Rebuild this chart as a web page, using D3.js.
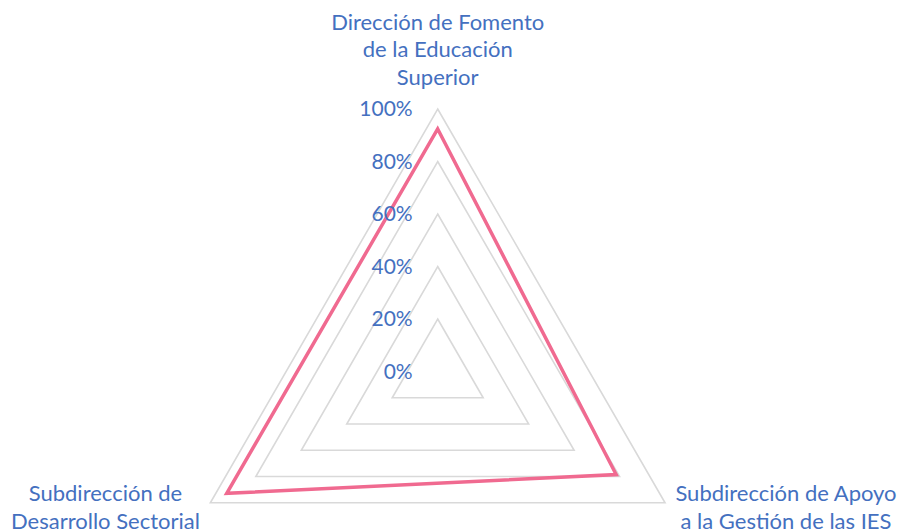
<!DOCTYPE html>
<html>
    <head>
        <title>Radar</title>
        <meta charset="UTF-8">
        <script src="https://cdnjs.cloudflare.com/ajax/libs/d3/7.9.0/d3.min.js"></script>
        <style>
            html, body {
                margin: 0;
                padding: 0;
                background: #fff;
            }
            text {
                font-family: Lato, "Noto Sans", sans-serif;
                fill: #4470bf;
            }
        </style>
    </head>
    <body>
        <div id="chart"></div>
        <script>
            // categories clockwise from the top, each one split in its display lines
            var categories = [
                ['Dirección de Fomento', 'de la Educación', 'Superior'],
                ['Subdirección de Apoyo', 'a la Gestión de las IES'],
                ['Subdirección de', 'Desarrollo Sectorial']
            ];
            var values = [0.924, 0.785, 0.928];
            var ticks = [0, 0.2, 0.4, 0.6, 0.8, 1];
            var tickLabels = ['0%', '20%', '40%', '60%', '80%', '100%'];

            var w = 901;
            var h = 531;
            var cx = 437.7;
            var cy = 371.5;
            var R = 262.5;

            var svg = d3.select('#chart').append('svg')
                    .attr('width', w)
                    .attr('height', h);

            var r = d3.scaleLinear().domain([0, 1]).range([0, R]);
            var angle = d3.scaleLinear()
                    .domain([0, categories.length])
                    .range([-Math.PI / 2, Math.PI * 3 / 2]);

            function pt(i, v){
                return [cx + r(v) * Math.cos(angle(i)), cy + r(v) * Math.sin(angle(i))];
            }

            var line = d3.line().curve(d3.curveLinearClosed);

            // grid rings (0% is the centre point)
            svg.append('g').selectAll('path')
                .data(ticks.filter(t => t > 0))
                .enter().append('path')
                .attr('fill', 'none')
                .attr('stroke', '#d9d9d9')
                .attr('stroke-width', 1.6)
                .attr('d', t => line(categories.map((c, i) => pt(i, t))));

            // series
            svg.append('path')
                .attr('fill', 'none')
                .attr('stroke', '#f06a90')
                .attr('stroke-width', 3.5)
                .attr('stroke-linejoin', 'miter')
                .attr('d', line(values.map((v, i) => pt(i, v))));

            // tick labels
            svg.append('g').selectAll('text')
                .data(ticks)
                .enter().append('text')
                .attr('x', cx - 25)
                .attr('y', t => cy - r(t))
                .attr('dy', '0.35em')
                .attr('text-anchor', 'end')
                .style('font-size', '21px')
                .text((t, i) => tickLabels[i]);

            // category labels
            var labelPos = [
                {x: cx, y: 29.5},
                {x: 786, y: 501},
                {x: 105.5, y: 501}
            ];
            categories.forEach(function(lines, i){
                var t = svg.append('text')
                    .attr('x', labelPos[i].x)
                    .attr('y', labelPos[i].y)
                    .attr('text-anchor', 'middle')
                    .style('font-size', '22px');
                lines.forEach(function(l, j){
                    t.append('tspan')
                        .attr('x', labelPos[i].x)
                        .attr('dy', j === 0 ? 0 : 27.5)
                        .text(l);
                });
            });
        </script>
    </body>
</html>
